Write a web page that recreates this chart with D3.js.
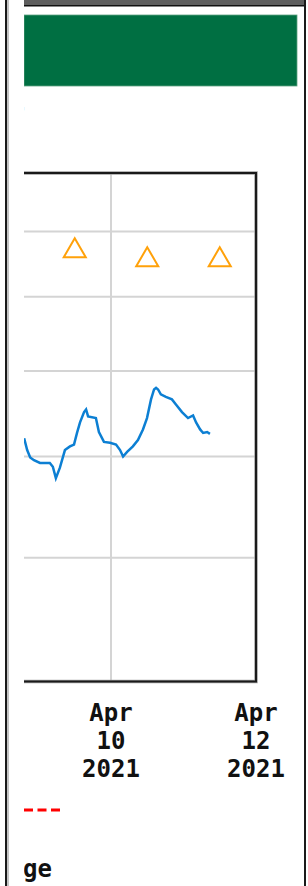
<!DOCTYPE html>
<meta charset='utf-8'>
<title>Discharge hydrograph</title>
<style>
html, body {
  margin: 0;
  padding: 0;
  background: #fff;
}
svg { display: block; }
</style>
<script src='https://d3js.org/d3.v7.min.js'></script>
<body>
<script>
// Discharge readings (time, value) - only the visible part of the record
var dischargeTimes = [
  '2021-04-08T19:15', '2021-04-08T20:15', '2021-04-08T21:15', '2021-04-08T22:30',
  '2021-04-09T00:30', '2021-04-09T03:45', '2021-04-09T04:45', '2021-04-09T05:45',
  '2021-04-09T07:05', '2021-04-09T08:45', '2021-04-09T10:25', '2021-04-09T11:45',
  '2021-04-09T12:45', '2021-04-09T13:45', '2021-04-09T15:05', '2021-04-09T15:45',
  '2021-04-09T16:25', '2021-04-09T19:00', '2021-04-09T20:00', '2021-04-09T21:40',
  '2021-04-09T23:40', '2021-04-10T01:40', '2021-04-10T03:00', '2021-04-10T04:00',
  '2021-04-10T05:20', '2021-04-10T07:15', '2021-04-10T08:55', '2021-04-10T10:35',
  '2021-04-10T11:55', '2021-04-10T13:15', '2021-04-10T14:15', '2021-04-10T14:55',
  '2021-04-10T15:35', '2021-04-10T16:30', '2021-04-10T18:10', '2021-04-10T20:10',
  '2021-04-10T21:30', '2021-04-10T23:30', '2021-04-11T01:30', '2021-04-11T03:10',
  '2021-04-11T04:10', '2021-04-11T05:30', '2021-04-11T06:30', '2021-04-11T07:50',
  '2021-04-11T08:45'
];
var dischargeValues = [
  620, 607, 599, 596,
  593, 593, 589, 577,
  588, 607, 611, 613,
  626, 638, 650, 653,
  645, 643, 627, 616,
  615, 613, 607, 600,
  605, 611, 618, 630,
  643, 665, 677, 679,
  677, 671, 668, 665,
  659, 650, 643, 646,
  638, 630, 626, 627,
  625
];

// Median daily statistic (plotted at noon)
var medianDays = ['2021-04-09T12:00', '2021-04-10T12:00', '2021-04-11T12:00'];
var medianValues = [869, 855, 855];

// Axis ticks
var yTickValues = [400, 500, 600, 700, 800, 900, 1000];
var xTickDays = ['2021-04-06T00:00', '2021-04-08T00:00', '2021-04-10T00:00', '2021-04-12T00:00'];

var width = 308, height = 886;
var parse = d3.timeParse('%Y-%m-%dT%H:%M');

// Plot frame (left edge falls outside the visible crop)
var cropLeft = 24;
var frameTop = 173, frameBottom = 681.5, frameRight = 256;
var dayPx = 72.5;
var frameLeft = frameRight - 7 * dayPx;

var x = d3.scaleTime()
  .domain([parse('2021-04-05T00:00'), parse('2021-04-12T00:00')])
  .range([frameLeft, frameRight]);

var y = d3.scaleLog()
  .domain([400, 1000])
  .range([frameBottom, frameTop]);

var svg = d3.select('body').append('svg')
  .attr('width', width)
  .attr('height', height);

svg.append('clipPath')
  .attr('id', 'crop')
  .append('rect')
  .attr('x', cropLeft).attr('y', 0)
  .attr('width', width - cropLeft).attr('height', height);

// Page chrome
svg.append('rect').attr('x', 24).attr('y', 0).attr('width', 281).attr('height', 5).attr('fill', '#5e5e5e');
svg.append('rect').attr('x', 24).attr('y', 5).attr('width', 281).attr('height', 1.5).attr('fill', '#111');
svg.append('rect').attr('x', 5).attr('y', 0).attr('width', 2).attr('height', height).attr('fill', '#1a1a1a');
svg.append('rect').attr('x', 7).attr('y', 0).attr('width', 2).attr('height', height).attr('fill', '#c4c4c4');
svg.append('rect').attr('x', 304).attr('y', 0).attr('width', 2).attr('height', height).attr('fill', '#1a1a1a');

var g = svg.append('g').attr('clip-path', 'url(#crop)');

// Green banner
g.append('rect')
  .attr('x', 24).attr('y', 15)
  .attr('width', 273).attr('height', 71)
  .attr('fill', '#006f42')
  .attr('stroke', '#5fa383')
  .attr('stroke-width', 0.8);

// Tail of the title text
g.append('text')
  .attr('x', 25).attr('y', 116)
  .attr('text-anchor', 'end')
  .attr('font-family', 'DejaVu Sans')
  .attr('font-size', 13)
  .attr('fill', '#999')
  .text("'");

// Gridlines
g.selectAll('.hgrid')
  .data(yTickValues.slice(1, -1))
  .enter().append('line')
  .attr('class', 'hgrid')
  .attr('x1', frameLeft).attr('x2', frameRight)
  .attr('y1', function (d) { return y(d); })
  .attr('y2', function (d) { return y(d); })
  .attr('stroke', '#d4d4d4')
  .attr('stroke-width', 2);

g.selectAll('.vgrid')
  .data(xTickDays.slice(0, -1).map(parse))
  .enter().append('line')
  .attr('class', 'vgrid')
  .attr('x1', function (d) { return x(d); })
  .attr('x2', function (d) { return x(d); })
  .attr('y1', frameTop).attr('y2', frameBottom)
  .attr('stroke', '#d4d4d4')
  .attr('stroke-width', 2);

// Frame
g.append('rect')
  .attr('x', frameLeft).attr('y', frameTop)
  .attr('width', frameRight - frameLeft).attr('height', frameBottom - frameTop)
  .attr('fill', 'none')
  .attr('stroke', '#a0a0a0')
  .attr('stroke-width', 3.5);
g.append('rect')
  .attr('x', frameLeft).attr('y', frameTop)
  .attr('width', frameRight - frameLeft).attr('height', frameBottom - frameTop)
  .attr('fill', 'none')
  .attr('stroke', '#1a1a1a')
  .attr('stroke-width', 2);

// Discharge line
var series = dischargeTimes.map(function (t, i) {
  return { t: parse(t), v: dischargeValues[i] };
});
var line = d3.line()
  .x(function (d) { return x(d.t); })
  .y(function (d) { return y(d.v); });

g.append('path')
  .datum(series)
  .attr('d', line)
  .attr('fill', 'none')
  .attr('stroke', '#0c7fd3')
  .attr('stroke-width', 2.5)
  .attr('stroke-linejoin', 'miter');

// Median triangles
var sym = d3.symbol().type(d3.symbolTriangle).size(210);
g.selectAll('.median')
  .data(medianDays.map(function (t, i) { return { t: parse(t), v: medianValues[i] }; }))
  .enter().append('path')
  .attr('class', 'median')
  .attr('d', sym)
  .attr('transform', function (d) { return 'translate(' + x(d.t) + ',' + y(d.v) + ')'; })
  .attr('fill', '#fff')
  .attr('stroke', '#ffa10a')
  .attr('stroke-width', 2);

// X axis labels (three lines each), only the ones inside the crop
var fmtLines = [d3.timeFormat('%b'), d3.timeFormat('%d'), d3.timeFormat('%Y')];
var xl = g.selectAll('.xlab')
  .data(xTickDays.map(parse).filter(function (d) { return x(d) > cropLeft + 30; }))
  .enter().append('text')
  .attr('class', 'xlab')
  .attr('text-anchor', 'middle')
  .attr('font-family', 'DejaVu Sans Mono')
  .attr('font-weight', 'bold')
  .attr('font-size', 24)
  .attr('fill', '#111');
fmtLines.forEach(function (f, i) {
  xl.append('tspan')
    .attr('x', function (d) { return x(d); })
    .attr('y', 721 + i * 28)
    .text(function (d) { return f(d); });
});

// Legend
g.append('line')
  .attr('x1', 24).attr('x2', 62)
  .attr('y1', 810).attr('y2', 810)
  .attr('stroke', '#f00')
  .attr('stroke-width', 3)
  .attr('stroke-dasharray', '9,4.5');

g.append('text')
  .attr('x', 23).attr('y', 877)
  .attr('font-family', 'DejaVu Sans Mono')
  .attr('font-weight', 'bold')
  .attr('font-size', 24)
  .attr('fill', '#111')
  .text('ge');
</script>
</body>
